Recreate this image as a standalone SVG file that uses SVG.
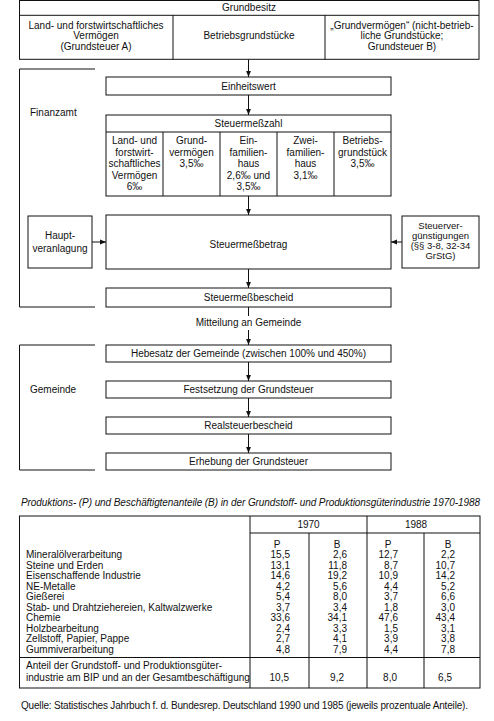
<svg xmlns="http://www.w3.org/2000/svg" width="494" height="721" viewBox="0 0 494 721">
<defs>
<style>
text{font-family:"Liberation Sans",Arial,sans-serif;font-size:10px;fill:#111}
.c{text-anchor:middle}
.e{text-anchor:end}
.it{font-style:italic}
.s{font-size:9.5px}
.b{fill:#fff;stroke:#111;stroke-width:1}
.l{fill:none;stroke:#111;stroke-width:1}
.ar{fill:none;stroke:#111;stroke-width:1;marker-end:url(#ah)}
</style>
<marker id="ah" viewBox="0 0 6 6" refX="6" refY="3" markerWidth="6" markerHeight="6" orient="auto" markerUnits="userSpaceOnUse"><path d="M0,0.6 L6,3 L0,5.4 z" fill="#111"/></marker>
</defs>
<rect width="494" height="721" fill="#fff"/>

<g id="brackets">
<path class="l" d="M95,69 H19.5 V307 H95"/>
<text x="30" y="116">Finanzamt</text>
<path class="l" d="M95,345 H19.5 V470 H95"/>
<text x="30" y="393">Gemeinde</text>
</g>

<g id="grundbesitz">
<rect class="b" x="19.5" y="0.5" width="459.5" height="58.8"/>
<line class="l" x1="19.5" y1="15.3" x2="479" y2="15.3"/>
<line class="l" x1="173" y1="15.3" x2="173" y2="59.3"/>
<line class="l" x1="325" y1="15.3" x2="325" y2="59.3"/>
<text class="c" x="249" y="11">Grundbesitz</text>
<text class="c" x="96" y="28.5">Land- und forstwirtschaftliches</text>
<text class="c" x="96" y="39">Vermögen</text>
<text class="c" x="96" y="49.5">(Grundsteuer A)</text>
<text class="c" x="249" y="39">Betriebsgrundstücke</text>
<text class="c" x="402" y="28.5">„Grundvermögen“ (nicht-betrieb-</text>
<text class="c" x="402" y="39">liche Grundstücke;</text>
<text class="c" x="402" y="49.5">Grundsteuer B)</text>
</g>

<g id="einheitswert">
<rect class="b" x="106" y="77" width="285" height="18"/>
<text class="c" x="248.5" y="89.5">Einheitswert</text>
</g>

<g id="steuermesszahl">
<rect class="b" x="106" y="115" width="285" height="81"/>
<line class="l" x1="106" y1="132" x2="391" y2="132"/>
<line class="l" x1="163" y1="132" x2="163" y2="196"/>
<line class="l" x1="220" y1="132" x2="220" y2="196"/>
<line class="l" x1="277" y1="132" x2="277" y2="196"/>
<line class="l" x1="334" y1="132" x2="334" y2="196"/>
<text class="c" x="248.5" y="126.5">Steuermeßzahl</text>
<text class="c" x="134.5" y="144">Land- und</text>
<text class="c" x="134.5" y="155.5">forstwirt-</text>
<text class="c" x="134.5" y="167">schaftliches</text>
<text class="c" x="134.5" y="178.5">Vermögen</text>
<text class="c" x="134.5" y="190">6‰</text>
<text class="c" x="191.5" y="144">Grund-</text>
<text class="c" x="191.5" y="155.5">vermögen</text>
<text class="c" x="191.5" y="167">3,5‰</text>
<text class="c" x="248.5" y="144">Ein-</text>
<text class="c" x="248.5" y="155.5">familien-</text>
<text class="c" x="248.5" y="167">haus</text>
<text class="c" x="248.5" y="178.5">2,6‰ und</text>
<text class="c" x="248.5" y="190">3,5‰</text>
<text class="c" x="305.5" y="144">Zwei-</text>
<text class="c" x="305.5" y="155.5">familien-</text>
<text class="c" x="305.5" y="167">haus</text>
<text class="c" x="305.5" y="178.5">3,1‰</text>
<text class="c" x="362.5" y="144">Betriebs-</text>
<text class="c" x="362.5" y="155.5">grundstück</text>
<text class="c" x="362.5" y="167">3,5‰</text>
</g>

<g id="hauptveranlagung">
<rect class="b" x="28" y="216" width="64" height="52"/>
<text class="c" x="60" y="238.5">Haupt-</text>
<text class="c" x="60" y="251.5">veranlagung</text>
</g>

<g id="steuermessbetrag">
<rect class="b" x="106" y="215" width="285" height="54"/>
<text class="c" x="248.5" y="247.5">Steuermeßbetrag</text>
</g>

<g id="steuerverguenstigungen">
<rect class="b" x="402" y="216" width="77" height="52"/>
<text class="c s" x="440.5" y="229">Steuerver-</text>
<text class="c s" x="440.5" y="239">günstigungen</text>
<text class="c s" x="440.5" y="249">(§§ 3-8, 32-34</text>
<text class="c s" x="440.5" y="259">GrStG)</text>
</g>

<g id="steuermessbescheid">
<rect class="b" x="106" y="288" width="285" height="19"/>
<text class="c" x="248.5" y="301">Steuermeßbescheid</text>
</g>

<g id="mitteilung">
<text class="c" x="248.5" y="326">Mitteilung an Gemeinde</text>
</g>

<g id="hebesatz">
<rect class="b" x="106" y="345" width="285" height="17"/>
<text class="c" x="248.5" y="357">Hebesatz der Gemeinde (zwischen 100% und 450%)</text>
</g>

<g id="festsetzung">
<rect class="b" x="106" y="381" width="285" height="17"/>
<text class="c" x="248.5" y="393">Festsetzung der Grundsteuer</text>
</g>

<g id="realsteuerbescheid">
<rect class="b" x="106" y="417" width="285" height="17"/>
<text class="c" x="248.5" y="429">Realsteuerbescheid</text>
</g>

<g id="erhebung">
<rect class="b" x="106" y="453" width="285" height="17"/>
<text class="c" x="248.5" y="465">Erhebung der Grundsteuer</text>
</g>

<g id="connectors">
<line class="ar" x1="248.5" y1="59.3" x2="248.5" y2="77"/>
<line class="ar" x1="248.5" y1="95" x2="248.5" y2="115"/>
<line class="ar" x1="248.5" y1="196" x2="248.5" y2="215"/>
<line class="ar" x1="92" y1="242" x2="106" y2="242"/>
<line class="ar" x1="402" y1="242" x2="391" y2="242"/>
<line class="ar" x1="248.5" y1="269" x2="248.5" y2="288"/>
<line class="l" x1="248.5" y1="307" x2="248.5" y2="316"/>
<line class="ar" x1="248.5" y1="330" x2="248.5" y2="345"/>
<line class="ar" x1="248.5" y1="362" x2="248.5" y2="381"/>
<line class="ar" x1="248.5" y1="398" x2="248.5" y2="417"/>
<line class="ar" x1="248.5" y1="434" x2="248.5" y2="453"/>
</g>

<g id="table">
<text class="it" x="21" y="506" textLength="459" lengthAdjust="spacing">Produktions- (P) und Beschäftigtenanteile (B) in der Grundstoff- und Produktionsgüterindustrie 1970-1988</text>
<rect class="l" x="19.5" y="516" width="460.5" height="172"/>
<line class="l" x1="250" y1="516" x2="250" y2="688"/>
<line class="l" x1="367" y1="516" x2="367" y2="688"/>
<line class="l" x1="309" y1="533" x2="309" y2="688"/>
<line class="l" x1="424" y1="533" x2="424" y2="688"/>
<line class="l" x1="250" y1="533" x2="480" y2="533"/>
<line class="l" x1="19.5" y1="657.5" x2="480" y2="657.5"/>
<text class="c" x="308.5" y="527.5">1970</text>
<text class="c" x="416" y="527.5">1988</text>
<text class="c" x="277" y="547.5">P</text>
<text class="c" x="337" y="547.5">B</text>
<text class="c" x="388" y="547.5">P</text>
<text class="c" x="448" y="547.5">B</text>

<text x="26" y="558">Mineralölverarbeitung</text>
<text x="26" y="568.5">Steine und Erden</text>
<text x="26" y="579">Eisenschaffende Industrie</text>
<text x="26" y="589.5">NE-Metalle</text>
<text x="26" y="600">Gießerei</text>
<text x="26" y="610.5">Stab- und Drahtziehereien, Kaltwalzwerke</text>
<text x="26" y="621">Chemie</text>
<text x="26" y="631.5">Holzbearbeitung</text>
<text x="26" y="642">Zellstoff, Papier, Pappe</text>
<text x="26" y="652.5">Gummiverarbeitung</text>

<g class="v1">
<text class="e" x="290" y="558">15,5</text>
<text class="e" x="290" y="568.5">13,1</text>
<text class="e" x="290" y="579">14,6</text>
<text class="e" x="290" y="589.5">4,2</text>
<text class="e" x="290" y="600">5,4</text>
<text class="e" x="290" y="610.5">3,7</text>
<text class="e" x="290" y="621">33,6</text>
<text class="e" x="290" y="631.5">2,4</text>
<text class="e" x="290" y="642">2,7</text>
<text class="e" x="290" y="652.5">4,8</text>
<text class="e" x="289" y="681">10,5</text>
</g>
<g class="v2">
<text class="e" x="347" y="558">2,6</text>
<text class="e" x="347" y="568.5">11,8</text>
<text class="e" x="347" y="579">19,2</text>
<text class="e" x="347" y="589.5">5,6</text>
<text class="e" x="347" y="600">8,0</text>
<text class="e" x="347" y="610.5">3,4</text>
<text class="e" x="347" y="621">34,1</text>
<text class="e" x="347" y="631.5">3,3</text>
<text class="e" x="347" y="642">4,1</text>
<text class="e" x="347" y="652.5">7,9</text>
<text class="e" x="344" y="681">9,2</text>
</g>
<g class="v3">
<text class="e" x="398" y="558">12,7</text>
<text class="e" x="398" y="568.5">8,7</text>
<text class="e" x="398" y="579">10,9</text>
<text class="e" x="398" y="589.5">4,4</text>
<text class="e" x="398" y="600">3,7</text>
<text class="e" x="398" y="610.5">1,8</text>
<text class="e" x="398" y="621">47,6</text>
<text class="e" x="398" y="631.5">1,5</text>
<text class="e" x="398" y="642">3,9</text>
<text class="e" x="398" y="652.5">4,4</text>
<text class="e" x="397" y="681">8,0</text>
</g>
<g class="v4">
<text class="e" x="455" y="558">2,2</text>
<text class="e" x="455" y="568.5">10,7</text>
<text class="e" x="455" y="579">14,2</text>
<text class="e" x="455" y="589.5">5,2</text>
<text class="e" x="455" y="600">6,6</text>
<text class="e" x="455" y="610.5">3,0</text>
<text class="e" x="455" y="621">43,4</text>
<text class="e" x="455" y="631.5">3,1</text>
<text class="e" x="455" y="642">3,8</text>
<text class="e" x="455" y="652.5">7,8</text>
<text class="e" x="452" y="681">6,5</text>
</g>

<text x="26" y="669">Anteil der Grundstoff- und Produktionsgüter-</text>
<text x="26" y="681">industrie am BIP und an der Gesamtbeschäftigung</text>
<text x="21" y="709" textLength="447" lengthAdjust="spacing">Quelle: Statistisches Jahrbuch f. d. Bundesrep. Deutschland 1990 und 1985 (jeweils prozentuale Anteile).</text>
</g>
</svg>
